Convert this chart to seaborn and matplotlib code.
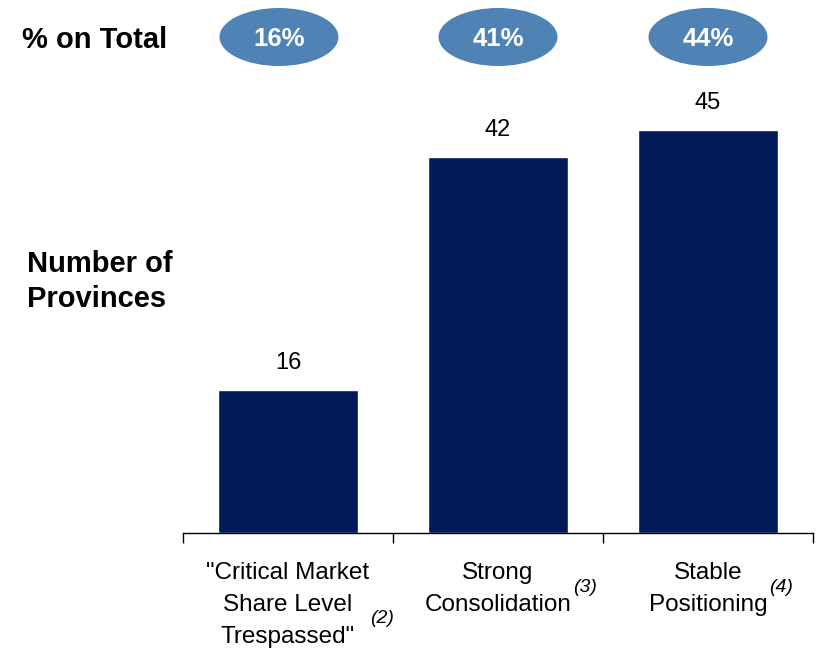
import matplotlib
matplotlib.use("Agg")
import matplotlib.pyplot as plt
import matplotlib.transforms as mtransforms
from matplotlib.patches import Ellipse
import pandas as pd
import seaborn as sns

# ---- data -------------------------------------------------------------
categories = ['"Critical Market\nShare Level\nTrespassed"',
              "Strong\nConsolidation",
              "Stable\nPositioning"]
footnotes = ["(2)", "(3)", "(4)"]
provinces = [16, 42, 45]
share_labels = ["16%", "41%", "44%"]
row_title = "% on Total"
axis_title = "Number of\nProvinces"

# ---- style ------------------------------------------------------------
NAVY = "#001A5A"
STEEL = "#4F83B5"
FONT = "Liberation Sans"

sns.set_theme(style="white")
plt.rcParams["font.family"] = [FONT, "DejaVu Sans"]

W, H = 825, 653
PX_PER_UNIT = 8.96
fig = plt.figure(figsize=(W / 100, H / 100), dpi=100)
ax = fig.add_axes([183 / W, (H - 533) / H, 630 / W, 453 / H])

df = pd.DataFrame({"category": categories, "provinces": provinces})
sns.barplot(data=df, x="category", y="provinces", color=NAVY,
            saturation=1, width=0.662, ax=ax)
ax.set_xlim(-0.5, 2.5)
ax.set_ylim(0, 453 / PX_PER_UNIT)
ax.set_xlabel("")
ax.set_ylabel("")
ax.set_yticks([])

for side in ("left", "top", "right"):
    ax.spines[side].set_visible(False)
ax.spines["bottom"].set_color("black")
ax.spines["bottom"].set_linewidth(1.0)

# category labels (major ticks, no marks) and separators (minor ticks)
ax.set_xticks(range(len(categories)), labels=categories, fontsize=17.5)
for t in ax.get_xticklabels():
    t.set_linespacing(1.58)
    t.set_color("black")
ax.set_xticks([-0.5, 0.5, 1.5, 2.5], minor=True)
ax.tick_params(axis="x", which="major", length=0, pad=21, bottom=True)
ax.tick_params(axis="x", which="minor", length=7.2, width=1.0,
               color="black", direction="out", bottom=True)

# value labels above bars
for i, v in enumerate(provinces):
    ax.annotate(str(v), xy=(i, v), xytext=(0, 15), textcoords="offset points",
                ha="center", va="baseline", fontsize=17, color="black")

# share row: ellipses with percentages
blend = mtransforms.blended_transform_factory(ax.transData, fig.transFigure)
nudge = [-0.043, 0.0, 0.0]
row_y = 1 - 37 / H
for i, lab in enumerate(share_labels):
    cx = i + nudge[i]
    fig.add_artist(Ellipse((cx, row_y), width=119 / 210, height=58 / H,
                           transform=blend, facecolor=STEEL,
                           edgecolor="none"))
    fig.text(cx, row_y, lab, transform=blend, ha="center",
             va="center_baseline", fontsize=18.5, fontweight="bold",
             color="white")

fig.text(22 / W, row_y, row_title, ha="left", va="center_baseline",
         fontsize=21, fontweight="bold", color="black")
fig.text(27 / W, 1 - 250 / H, axis_title, ha="left", va="top",
         fontsize=21, fontweight="bold", color="black", linespacing=1.3)

# footnote markers after the last line of each category label
fig.canvas.draw()
renderer = fig.canvas.get_renderer()
for i, t in enumerate(ax.get_xticklabels()):
    fp = t.get_fontproperties()
    last = categories[i].split("\n")[-1]
    w, h, d = renderer.get_text_width_height_descent(last, fp, ismath=False)
    _, _, d_lp = renderer.get_text_width_height_descent("lp", fp, ismath=False)
    bb = t.get_window_extent(renderer)
    tick_x = ax.transData.transform((i, 0))[0]
    baseline = bb.y0 + d_lp
    cap_top = baseline + 0.716 * fp.get_size_in_points() * fig.dpi / 72
    x_px = max(tick_x + w / 2 + 2, bb.x1 + 1)
    y_fig = (cap_top + 15) / H
    fig.text(x_px / W, y_fig, footnotes[i], ha="left", va="top", fontsize=14,
             fontstyle="italic", color="black")

fig.savefig("out.png", dpi=100)
